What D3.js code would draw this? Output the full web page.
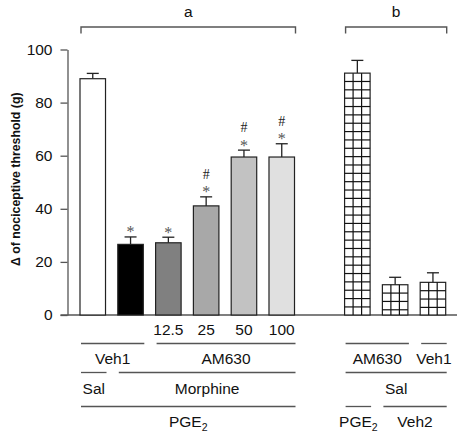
<!DOCTYPE html>
<html>
<head>
<meta charset="utf-8">
<script src="https://cdn.jsdelivr.net/npm/d3@7"></script>
<style>
  html, body { margin: 0; padding: 0; background: #fff; }
  svg { display: block; font-family: "Liberation Sans", Arial, Helvetica, sans-serif; }
</style>
</head>
<body>
<svg id="chart" width="460" height="434"></svg>
<script>
// ---- data ----
const slots = ["Sal/PGE2", "Veh1/Morphine/PGE2", "AM630 12.5", "AM630 25", "AM630 50", "AM630 100", "", "AM630/Sal/PGE2", "AM630/Sal/Veh2", "Veh1/Sal/Veh2"];
const values = [89, 26.6, 27.2, 41.1, 59.5, 59.5, null, 91.1, 11.4, 12.3];
const errors = [2, 2.8, 2.1, 3.4, 2.6, 5.0, null, 4.8, 2.8, 3.6];
const fills = ["#ffffff", "#000000", "#808080", "#a8a8a8", "#c2c2c2", "#e0e0e0", null, "grid", "grid", "grid"];
const stars = [0, 1, 1, 1, 1, 1, 0, 0, 0, 0];
const hashes = [0, 0, 0, 1, 1, 1, 0, 0, 0, 0];
const doseLabels = ["", "", "12.5", "25", "50", "100", "", "", "", ""];
const yTicks = [0, 20, 40, 60, 80, 100];
const brackets = [["a", 0, 5], ["b", 7, 9]];
const groupRow1 = [["Veh1", 0, 1], ["AM630", 2, 5], ["AM630", 7, 8], ["Veh1", 9, 9]];
const groupRow2 = [["Sal", 0, 0], ["Morphine", 1, 5], ["Sal", 7, 9]];
const groupRow3 = [["PGE|2", 0, 5], ["PGE|2", 7, 7], ["Veh2", 8, 9]];
const yLabel = "\u0394 of nociceptive threshold (g)";

// ---- layout ----
const svg = d3.select("#chart");
const axisColor = "#555";
const fs = 15.5;
const x = d3.scaleBand().domain(d3.range(slots.length)).range([80, 445.7]).paddingInner(0.325).paddingOuter(0);
const bw = x.bandwidth();
const y = d3.scaleLinear().domain([0, 100]).range([315, 49.5]);

// y axis
const yAxis = svg.append("g").attr("transform", "translate(67.5,0)")
  .call(d3.axisLeft(y).tickValues(yTicks).tickSize(7).tickSizeOuter(0).tickPadding(8));
yAxis.select(".domain").attr("stroke", axisColor).attr("stroke-width", 1.3);
yAxis.selectAll(".tick line").attr("stroke", axisColor).attr("stroke-width", 1.3);
yAxis.selectAll(".tick text").attr("font-size", fs).attr("fill", "#111")
  .attr("font-family", '"Liberation Sans", Arial, sans-serif');

// baseline
svg.append("line").attr("x1", 60.5).attr("x2", 457).attr("y1", y(0)).attr("y2", y(0))
  .attr("stroke", axisColor).attr("stroke-width", 1.5);

// y label
svg.append("text").attr("transform", `translate(20,${(y(0) + y(100)) / 2 - 3}) rotate(-90)`)
  .attr("text-anchor", "middle").attr("font-size", 12.3).attr("font-weight", "bold").attr("fill", "#111")
  .text(yLabel);

const idx = d3.range(slots.length).filter(i => values[i] !== null);

// error bars (drawn behind bars)
const eb = svg.append("g").attr("stroke", "#222").attr("stroke-width", 1.3);
idx.forEach(i => {
  const cx = x(i) + bw / 2;
  eb.append("line").attr("x1", cx).attr("x2", cx).attr("y1", y(values[i])).attr("y2", y(values[i] + errors[i]));
  eb.append("line").attr("x1", cx - 6).attr("x2", cx + 6).attr("y1", y(values[i] + errors[i])).attr("y2", y(values[i] + errors[i]));
});

// bars
svg.append("g").selectAll("rect").data(idx).join("rect")
  .attr("x", i => x(i)).attr("width", bw)
  .attr("y", i => y(values[i])).attr("height", i => y(0) - y(values[i]))
  .attr("fill", i => fills[i] === "grid" ? "#fff" : fills[i])
  .attr("stroke", "#222").attr("stroke-width", 1.2);

// grid pattern for checkered bars
const gridG = svg.append("g").attr("stroke", "#111").attr("stroke-width", 1.2);
idx.filter(i => fills[i] === "grid").forEach(i => {
  const x0 = x(i), top = y(values[i]), bot = y(0);
  for (let k = 1; k < 3; k++) {
    gridG.append("line").attr("x1", x0 + k * bw / 3).attr("x2", x0 + k * bw / 3).attr("y1", top).attr("y2", bot);
  }
  const cell = 8.35;
  for (let yy = top + cell; yy < bot - 1; yy += cell) {
    gridG.append("line").attr("x1", x0).attr("x2", x0 + bw).attr("y1", yy).attr("y2", yy);
  }
});

// significance markers
const mk = svg.append("g").attr("font-family", '"Liberation Serif", "Times New Roman", serif').attr("text-anchor", "middle");
idx.forEach(i => {
  const cx = x(i) + bw / 2;
  const topY = y(values[i] + errors[i]);
  if (stars[i]) {
    mk.append("text").attr("x", cx).attr("y", topY + 0.5).attr("font-size", 16).attr("fill", "#555").text("*");
  }
  if (hashes[i]) {
    mk.append("text").attr("x", cx).attr("y", topY - 18).attr("font-size", 14).attr("fill", "#222").text("#");
  }
});

// top brackets
const br = svg.append("g");
brackets.forEach(([lab, a, b]) => {
  const x1 = x(a) + 1, x2 = x(b) + bw + 1;
  br.append("path").attr("d", `M${x1},33.5V27H${x2}V33.5`).attr("fill", "none").attr("stroke", axisColor).attr("stroke-width", 1.4);
  br.append("text").attr("x", (x1 + x2) / 2).attr("y", 17).attr("text-anchor", "middle").attr("font-size", fs).attr("fill", "#111").text(lab);
});

// dose labels
svg.append("g").selectAll("text").data(d3.range(slots.length).filter(i => doseLabels[i])).join("text")
  .attr("x", i => x(i) + bw / 2).attr("y", 335).attr("text-anchor", "middle").attr("font-size", fs).attr("fill", "#111")
  .text(i => doseLabels[i]);

// grouping rows
function row(groups, lineY, textY) {
  const g = svg.append("g");
  groups.forEach(([lab, a, b]) => {
    const x1 = x(a) + 1, x2 = x(b) + bw + 1;
    g.append("line").attr("x1", x1).attr("x2", x2).attr("y1", lineY).attr("y2", lineY)
      .attr("stroke", axisColor).attr("stroke-width", 1.3);
    const parts = lab.split("|");
    const t = g.append("text").attr("x", (x1 + x2) / 2).attr("y", textY).attr("text-anchor", "middle")
      .attr("font-size", fs).attr("fill", "#111");
    t.append("tspan").text(parts[0]);
    if (parts[1]) t.append("tspan").attr("font-size", 10.5).attr("dy", 4).text(parts[1]);
  });
}
row(groupRow1, 343.5, 363.5);
row(groupRow2, 372.5, 393.5);
row(groupRow3, 406.5, 427);
</script>
</body>
</html>
